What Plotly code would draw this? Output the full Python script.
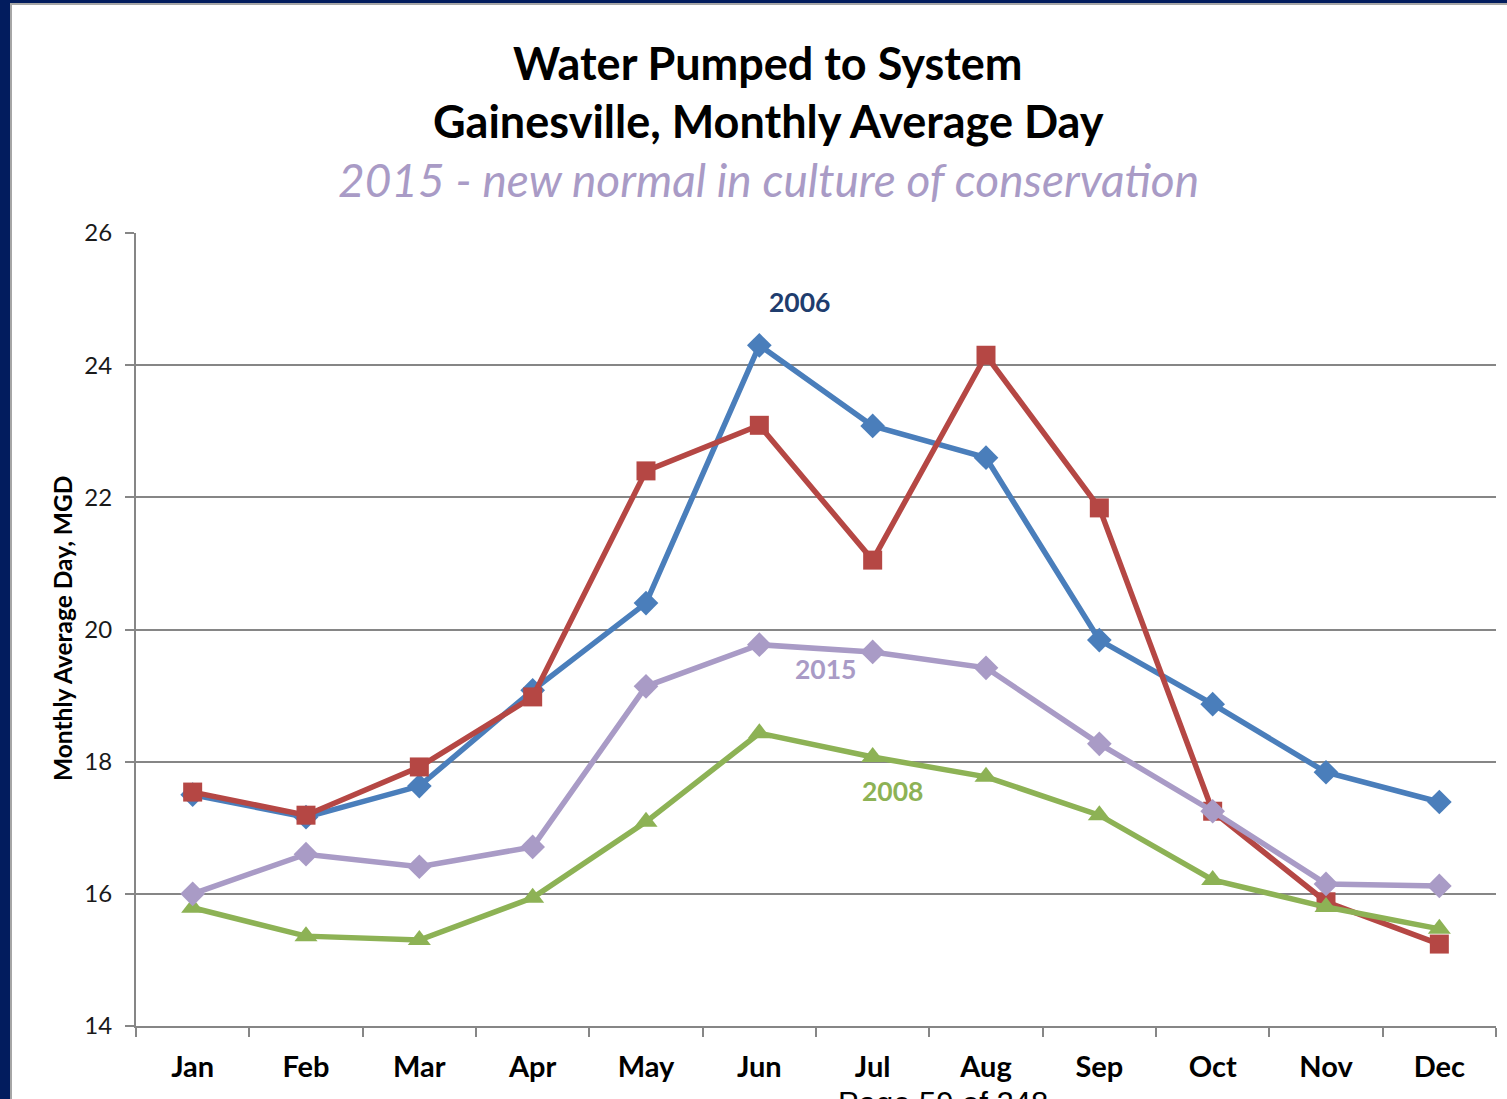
import plotly.graph_objects as go

months = ["Jan", "Feb", "Mar", "Apr", "May", "Jun", "Jul", "Aug", "Sep", "Oct", "Nov", "Dec"]
y2006 = [17.50, 17.16, 17.63, 19.08, 20.40, 24.30, 23.08, 22.60, 19.84, 18.87, 17.84, 17.39]
y2007 = [17.54, 17.19, 17.92, 18.98, 22.40, 23.09, 21.05, 24.15, 21.84, 17.25, 15.88, 15.24]
y2008 = [15.79, 15.36, 15.30, 15.94, 17.09, 18.43, 18.07, 17.77, 17.19, 16.21, 15.80, 15.47]
y2015 = [16.00, 16.60, 16.41, 16.71, 19.14, 19.77, 19.66, 19.42, 18.27, 17.25, 16.15, 16.12]
y_ticks = [14, 16, 18, 20, 22, 24, 26]

W, H = 1507, 1099
L, R, T, B = 136, 1496, 233, 1026

def px(x):
    return (x - L) / (R - L)

def py(y):
    return (B - y) / (B - T)

FONT = "Lato"
BLUE = "#4A7EBB"
RED = "#B54744"
GREEN = "#8DB255"
LAV = "#A99BC6"

fig = go.Figure()
series = [
    ("2006", y2006, BLUE, "diamond", 19),
    ("2007", y2007, RED, "square", 19),
    ("2008", y2008, GREEN, "triangle-up", 20),
    ("2015", y2015, LAV, "diamond", 19),
]
for name, ys, col, sym, sz in series:
    fig.add_trace(go.Scatter(
        x=months, y=ys, name=name, mode="lines+markers",
        line=dict(color=col, width=5.5),
        marker=dict(symbol=sym, size=sz, color=col),
        showlegend=False,
    ))

fig.update_layout(
    width=W, height=H, autosize=False,
    margin=dict(l=L, r=W - R, t=T, b=H - B, pad=0),
    paper_bgcolor="white", plot_bgcolor="white",
    font=dict(family=FONT, color="#000000"),
    xaxis=dict(
        type="category", range=[-0.5, 11.5], tickson="boundaries",
        ticks="outside", ticklen=9, tickwidth=2, tickcolor="#868686",
        showline=True, linecolor="#868686", linewidth=2,
        showgrid=False, zeroline=False, ticklabelstandoff=14,
        tickfont=dict(family=FONT, size=29, color="#000000", weight="bold"),
    ),
    yaxis=dict(
        range=[14, 26], tickvals=y_ticks,
        ticks="outside", ticklen=9, tickwidth=2, tickcolor="#868686",
        showline=True, linecolor="#868686", linewidth=2,
        showgrid=True, gridcolor="#868686", gridwidth=2, zeroline=False,
        ticklabelstandoff=8,
        tickfont=dict(family=FONT, size=24, color="#1A1A1A"),
    ),
)

ann = [
    dict(text="<b>Water Pumped to System</b>", x=px(768), y=py(63), size=45, color="#000000"),
    dict(text="<b>Gainesville, Monthly Average Day</b>", x=px(768), y=py(121), size=45, color="#000000"),
    dict(text="<i>2015 - new normal in culture of conservation</i>", x=px(768), y=py(180), size=46, color=LAV),
    dict(text="<b>2006</b>", x=px(799), y=py(302), size=26.5, color="#1F3D6E"),
    dict(text="<b>2015</b>", x=px(825), y=py(669), size=26.5, color=LAV),
    dict(text="<b>2008</b>", x=px(892), y=py(791), size=26.5, color=GREEN),
]
for a in ann:
    fig.add_annotation(text=a["text"], x=a["x"], y=a["y"], xref="paper", yref="paper",
                       showarrow=False, xanchor="center", yanchor="middle",
                       font=dict(family=FONT, size=a["size"], color=a["color"]))

fig.add_annotation(text="<b>Monthly Average Day, MGD</b>", textangle=-90,
                   x=px(62), y=py(629), xref="paper", yref="paper", showarrow=False,
                   xanchor="center", yanchor="middle",
                   font=dict(family=FONT, size=24.5, color="#000000"))

fig.add_annotation(text="Page 59 of 248", x=px(943), y=py(1084), xref="paper", yref="paper",
                   showarrow=False, xanchor="center", yanchor="top",
                   font=dict(family="Liberation Sans", size=31, color="#000000"))

# slide frame
fig.add_shape(type="rect", xref="paper", yref="paper", x0=px(0), x1=px(10), y0=py(H), y1=py(0),
              fillcolor="#021C5E", line=dict(width=0), layer="above")
fig.add_shape(type="rect", xref="paper", yref="paper", x0=px(10), x1=px(12), y0=py(H), y1=py(4),
              fillcolor="#A6A6A6", line=dict(width=0), layer="above")
fig.add_shape(type="rect", xref="paper", yref="paper", x0=px(0), x1=px(W), y0=py(3), y1=py(0),
              fillcolor="#021C5E", line=dict(width=0), layer="above")
fig.add_shape(type="rect", xref="paper", yref="paper", x0=px(10), x1=px(W), y0=py(5), y1=py(3),
              fillcolor="#A6A6A6", line=dict(width=0), layer="above")

fig.write_html("out.html", config={"displayModeBar": False},
               post_script="document.body.style.margin='0';document.body.style.overflow='hidden';")
